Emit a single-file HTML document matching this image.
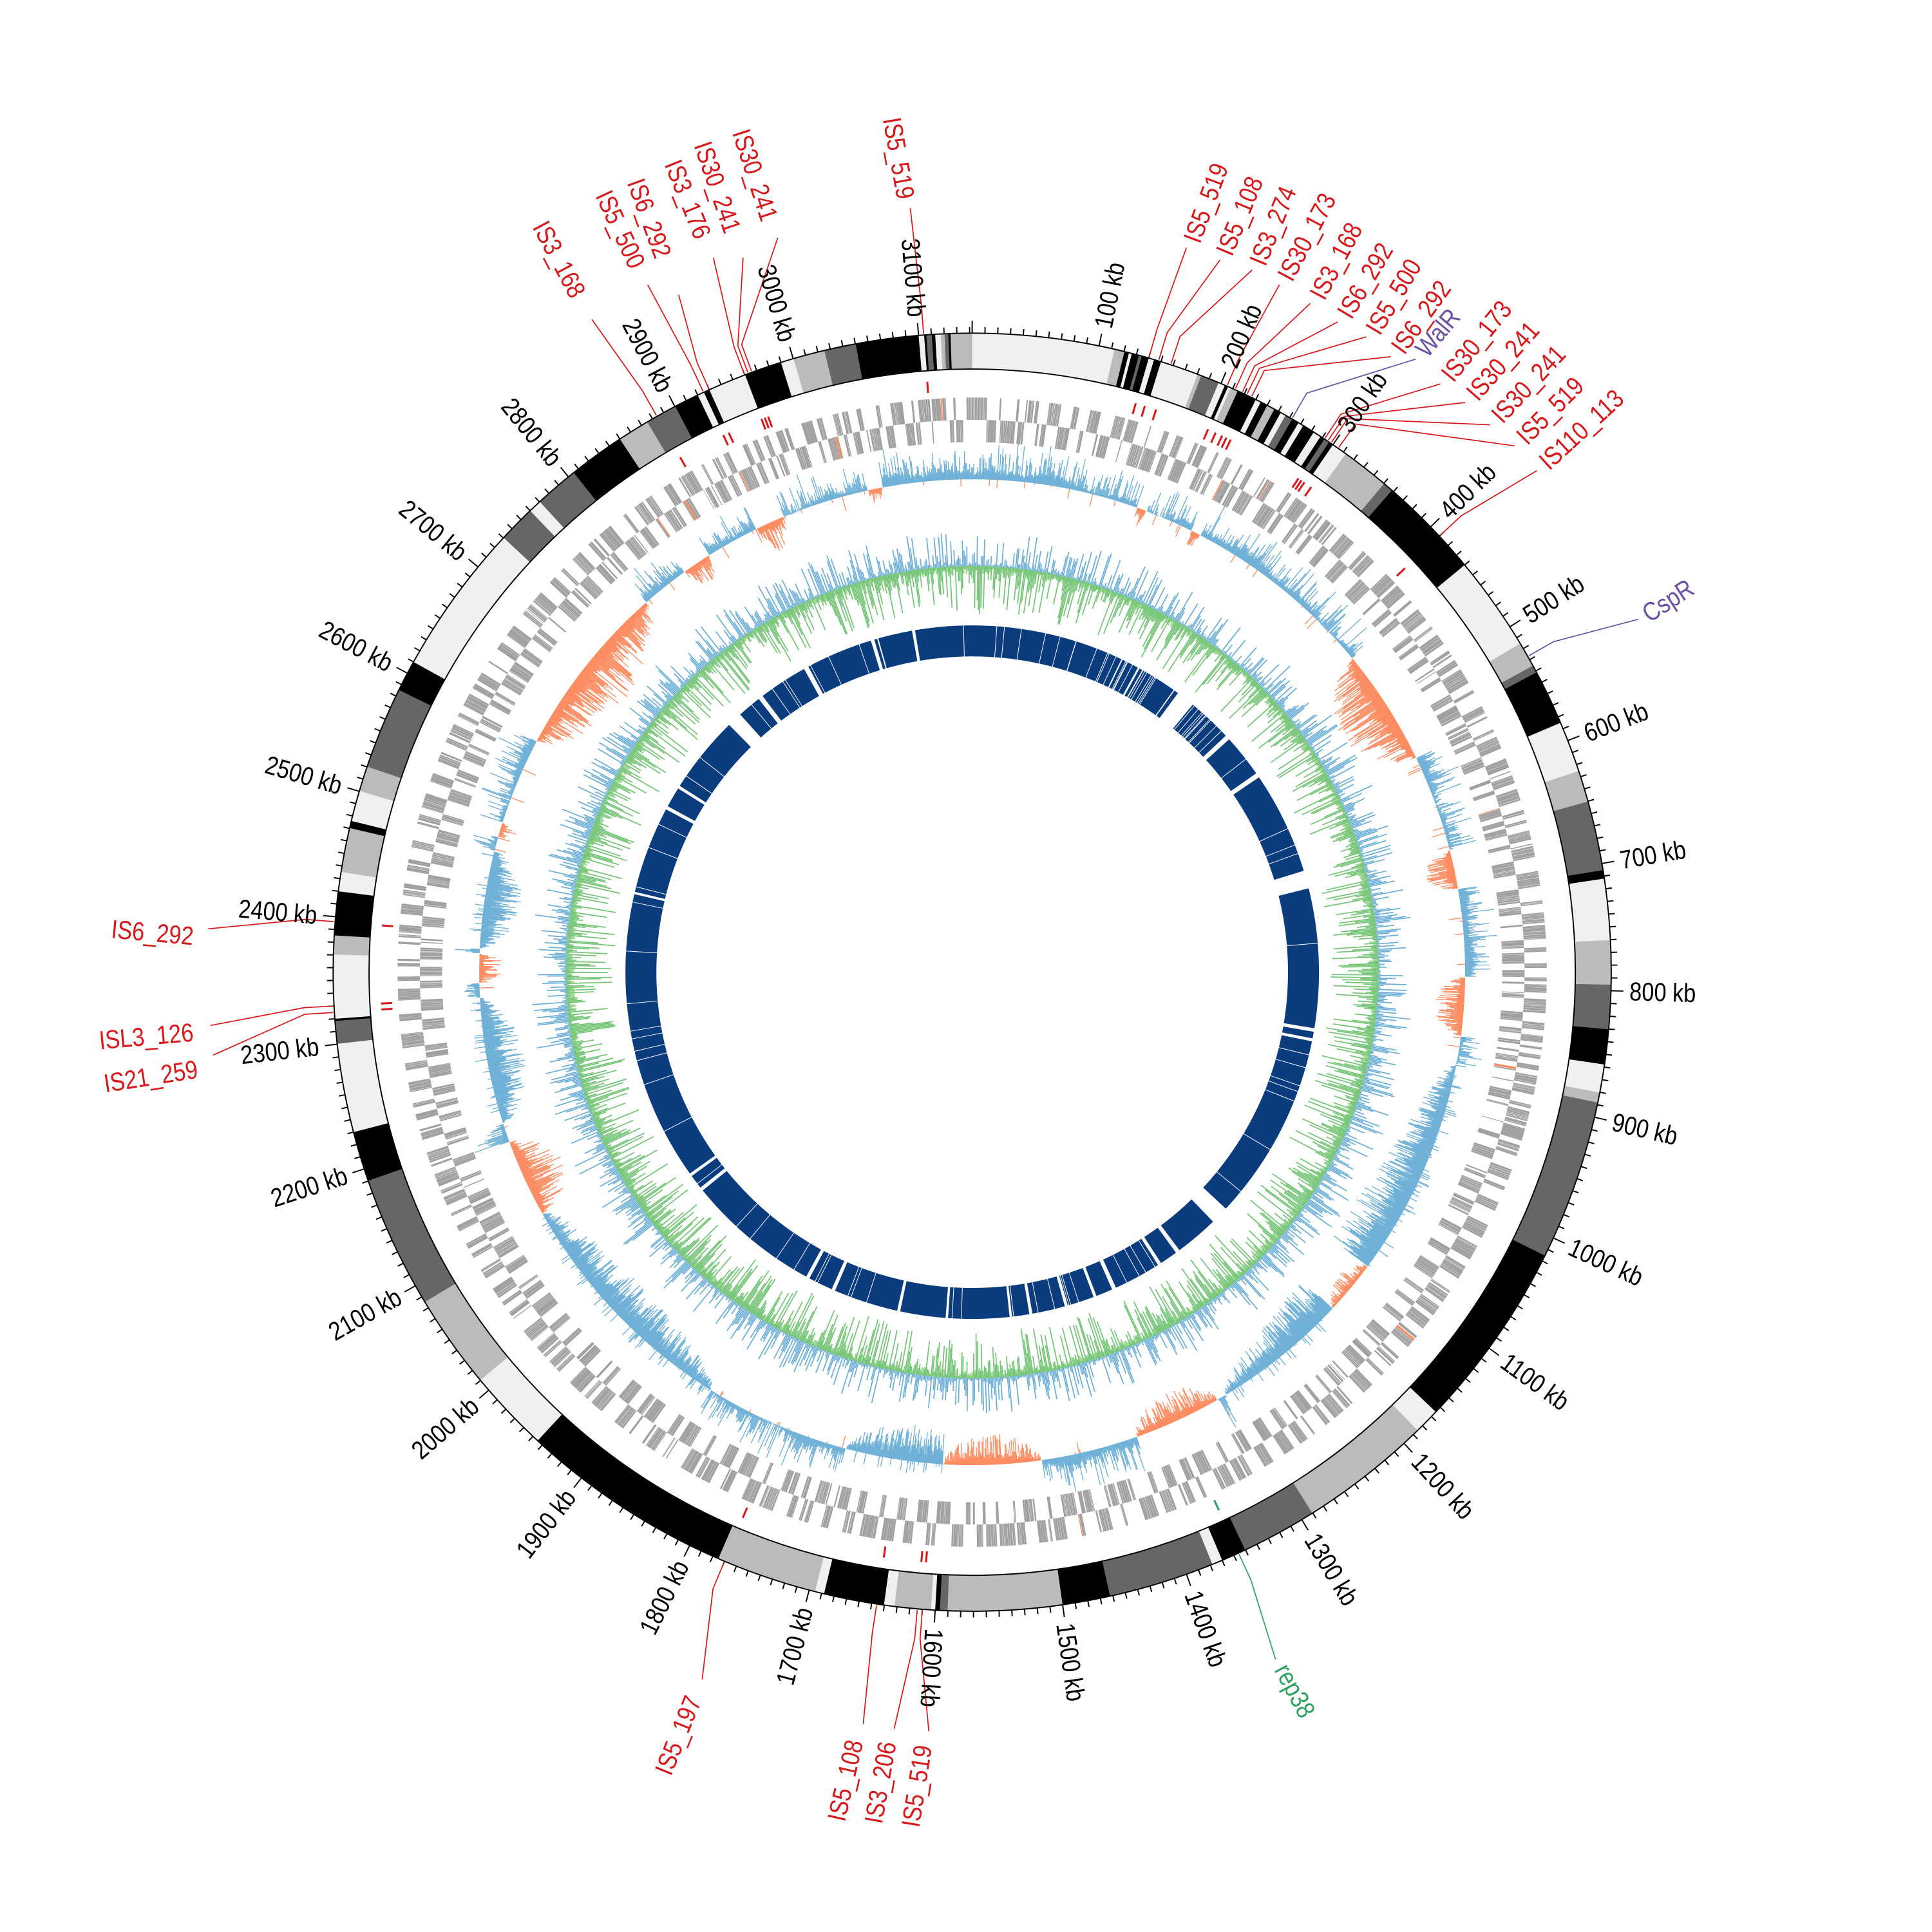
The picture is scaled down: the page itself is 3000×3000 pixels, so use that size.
<!DOCTYPE html>
<html><head><meta charset="utf-8">
<style>
html,body{margin:0;padding:0;background:#fff;}
svg{display:block;}
.kb{font-family:"Liberation Sans Narrow","Liberation Sans",sans-serif;font-size:21px;fill:#000;dominant-baseline:central;}
.is{font-family:"Liberation Sans Narrow","Liberation Sans",sans-serif;font-size:21px;fill:#d7191c;dominant-baseline:central;}
.pu{fill:#6a51a3;}
.gr{fill:#2ca25f;}
</style></head>
<body>
<svg id="s" xmlns="http://www.w3.org/2000/svg" width="3000" height="3000" viewBox="0 0 1560 1560">
<rect width="1560" height="1560" fill="#fff"/>
<g id="tracks"></g>
<g id="kbl">
<text class="kb" text-anchor="start" transform="rotate(11.46 785 785) translate(785 254) rotate(-90) scale(0.85 1)">100 kb</text>
<text class="kb" text-anchor="start" transform="rotate(22.92 785 785) translate(785 254) rotate(-90) scale(0.85 1)">200 kb</text>
<text class="kb" text-anchor="start" transform="rotate(34.37 785 785) translate(785 254) rotate(-90) scale(0.85 1)">300 kb</text>
<text class="kb" text-anchor="start" transform="rotate(45.83 785 785) translate(785 254) rotate(-90) scale(0.85 1)">400 kb</text>
<text class="kb" text-anchor="start" transform="rotate(57.29 785 785) translate(785 254) rotate(-90) scale(0.85 1)">500 kb</text>
<text class="kb" text-anchor="start" transform="rotate(68.75 785 785) translate(785 254) rotate(-90) scale(0.85 1)">600 kb</text>
<text class="kb" text-anchor="start" transform="rotate(80.20 785 785) translate(785 254) rotate(-90) scale(0.85 1)">700 kb</text>
<text class="kb" text-anchor="start" transform="rotate(91.66 785 785) translate(785 254) rotate(-90) scale(0.85 1)">800 kb</text>
<text class="kb" text-anchor="start" transform="rotate(103.12 785 785) translate(785 254) rotate(-90) scale(0.85 1)">900 kb</text>
<text class="kb" text-anchor="start" transform="rotate(114.58 785 785) translate(785 254) rotate(-90) scale(0.85 1)">1000 kb</text>
<text class="kb" text-anchor="start" transform="rotate(126.03 785 785) translate(785 254) rotate(-90) scale(0.85 1)">1100 kb</text>
<text class="kb" text-anchor="start" transform="rotate(137.49 785 785) translate(785 254) rotate(-90) scale(0.85 1)">1200 kb</text>
<text class="kb" text-anchor="start" transform="rotate(148.95 785 785) translate(785 254) rotate(-90) scale(0.85 1)">1300 kb</text>
<text class="kb" text-anchor="start" transform="rotate(160.41 785 785) translate(785 254) rotate(-90) scale(0.85 1)">1400 kb</text>
<text class="kb" text-anchor="start" transform="rotate(171.87 785 785) translate(785 254) rotate(-90) scale(0.85 1)">1500 kb</text>
<text class="kb" text-anchor="start" transform="rotate(183.32 785 785) translate(785 254) rotate(-90) scale(0.85 1)">1600 kb</text>
<text class="kb" text-anchor="end" transform="rotate(194.78 785 785) translate(785 254) rotate(90) scale(0.85 1)">1700 kb</text>
<text class="kb" text-anchor="end" transform="rotate(206.24 785 785) translate(785 254) rotate(90) scale(0.85 1)">1800 kb</text>
<text class="kb" text-anchor="end" transform="rotate(217.70 785 785) translate(785 254) rotate(90) scale(0.85 1)">1900 kb</text>
<text class="kb" text-anchor="end" transform="rotate(229.15 785 785) translate(785 254) rotate(90) scale(0.85 1)">2000 kb</text>
<text class="kb" text-anchor="end" transform="rotate(240.61 785 785) translate(785 254) rotate(90) scale(0.85 1)">2100 kb</text>
<text class="kb" text-anchor="end" transform="rotate(252.07 785 785) translate(785 254) rotate(90) scale(0.85 1)">2200 kb</text>
<text class="kb" text-anchor="end" transform="rotate(263.53 785 785) translate(785 254) rotate(90) scale(0.85 1)">2300 kb</text>
<text class="kb" text-anchor="end" transform="rotate(274.98 785 785) translate(785 254) rotate(90) scale(0.85 1)">2400 kb</text>
<text class="kb" text-anchor="end" transform="rotate(286.44 785 785) translate(785 254) rotate(90) scale(0.85 1)">2500 kb</text>
<text class="kb" text-anchor="end" transform="rotate(297.90 785 785) translate(785 254) rotate(90) scale(0.85 1)">2600 kb</text>
<text class="kb" text-anchor="end" transform="rotate(309.36 785 785) translate(785 254) rotate(90) scale(0.85 1)">2700 kb</text>
<text class="kb" text-anchor="end" transform="rotate(320.81 785 785) translate(785 254) rotate(90) scale(0.85 1)">2800 kb</text>
<text class="kb" text-anchor="end" transform="rotate(332.27 785 785) translate(785 254) rotate(90) scale(0.85 1)">2900 kb</text>
<text class="kb" text-anchor="end" transform="rotate(343.73 785 785) translate(785 254) rotate(90) scale(0.85 1)">3000 kb</text>
<text class="kb" text-anchor="end" transform="rotate(355.19 785 785) translate(785 254) rotate(90) scale(0.85 1)">3100 kb</text>
</g>
<g id="isl">
<text class="is" transform="translate(436 180) rotate(62) scale(0.85 1)">IS3_168</text>
<text class="is" transform="translate(487 155) rotate(65) scale(0.85 1)">IS5_500</text>
<text class="is" transform="translate(513 145) rotate(70) scale(0.85 1)">IS6_292</text>
<text class="is" transform="translate(543 130) rotate(68) scale(0.85 1)">IS3_176</text>
<text class="is" transform="translate(567 115) rotate(71) scale(0.85 1)">IS30_241</text>
<text class="is" transform="translate(598 105) rotate(72) scale(0.85 1)">IS30_241</text>
<text class="is" transform="translate(720 95) rotate(80) scale(0.85 1)">IS5_519</text>
<text class="is" transform="translate(962 195) rotate(-69.5) scale(0.85 1)">IS5_519</text>
<text class="is" transform="translate(988 205) rotate(-67.4) scale(0.85 1)">IS5_108</text>
<text class="is" transform="translate(1015 213) rotate(-67.6) scale(0.85 1)">IS3_274</text>
<text class="is" transform="translate(1037 225) rotate(-62) scale(0.85 1)">IS30_173</text>
<text class="is" transform="translate(1063 240) rotate(-62) scale(0.85 1)">IS3_168</text>
<text class="is" transform="translate(1085 255) rotate(-59) scale(0.85 1)">IS6_292</text>
<text class="is" transform="translate(1108 268) rotate(-59) scale(0.85 1)">IS5_500</text>
<text class="is" transform="translate(1128 283) rotate(-54.5) scale(0.85 1)">IS6_292</text>
<text class="is pu" transform="translate(1147 285) rotate(-50) scale(0.85 1)">WalR</text>
<text class="is" transform="translate(1168 305) rotate(-51) scale(0.85 1)">IS30_173</text>
<text class="is" transform="translate(1188 320) rotate(-48.5) scale(0.85 1)">IS30_241</text>
<text class="is" transform="translate(1208 338) rotate(-47) scale(0.85 1)">IS30_241</text>
<text class="is" transform="translate(1228 355) rotate(-45) scale(0.85 1)">IS5_519</text>
<text class="is" transform="translate(1246 375) rotate(-42.6) scale(0.85 1)">IS110_113</text>
<text class="is pu" transform="translate(1328 497) rotate(-33) scale(0.85 1)">CspR</text>
<text class="is" transform="translate(90 750) rotate(5) scale(0.85 1)">IS6_292</text>
<text class="is" transform="translate(80 840) rotate(-5) scale(0.85 1)">ISL3_126</text>
<text class="is" transform="translate(84 875) rotate(-9) scale(0.85 1)">IS21_259</text>
<text class="is" transform="translate(535 1432) rotate(-68) scale(0.85 1)">IS5_197</text>
<text class="is" transform="translate(675 1470) rotate(-77) scale(0.85 1)">IS5_108</text>
<text class="is" transform="translate(705 1472) rotate(-80) scale(0.85 1)">IS3_206</text>
<text class="is" transform="translate(735 1475) rotate(-81) scale(0.85 1)">IS5_519</text>
<text class="is gr" transform="translate(1035 1345) rotate(62) scale(0.85 1)">rep38</text>
</g>
</svg>
<script>
(function(){
const G=3142,cx=785,cy=785;
const NS="http://www.w3.org/2000/svg";
const T=document.getElementById('tracks');
function P(r,kb){const a=kb/G*2*Math.PI;return [cx+r*Math.sin(a),cy-r*Math.cos(a)];}
function f(p){return p[0].toFixed(2)+' '+p[1].toFixed(2);}
function sec(r1,r2,k1,k2){const L=(k2-k1)/G>0.5?1:0;return 'M'+f(P(r2,k1))+'A'+r2+' '+r2+' 0 '+L+' 1 '+f(P(r2,k2))+'L'+f(P(r1,k2))+'A'+r1+' '+r1+' 0 '+L+' 0 '+f(P(r1,k1))+'Z';}
function ln(r1,r2,kb){return 'M'+f(P(r1,kb))+'L'+f(P(r2,kb));}
function add(tag,attrs){const e=document.createElementNS(NS,tag);for(const k in attrs)e.setAttribute(k,attrs[k]);T.appendChild(e);return e;}
let seed=12345;function rng(){seed|=0;seed=seed+0x6D2B79F5|0;let t=Math.imul(seed^seed>>>15,1|seed);t=t+Math.imul(t^t>>>7,61|t)^t;return((t^t>>>14)>>>0)/4294967296;}

const C={k:'#000',d:'#666',g:'#bbb',l:'#f0f0f0'};
const segs=[[0,112,'l'],[112,120,'g'],[120,124,'k'],[124,126,'l'],[126,132,'k'],[132,134,'d'],[134,140,'k'],[140,144,'l'],[144,150,'k'],[150,180,'l'],[180,183,'g'],[183,198,'d'],[198,203,'l'],[203,206,'k'],[206,208,'l'],[208,214,'g'],[214,230,'k'],[230,234,'l'],[234,240,'k'],[240,246,'g'],[246,252,'k'],[252,256,'l'],[256,262,'d'],[262,268,'k'],[268,272,'l'],[272,282,'k'],[282,288,'l'],[288,292,'k'],[292,296,'d'],[296,300,'k'],[300,312,'l'],[312,350,'g'],[350,358,'d'],[358,440,'k'],[440,515,'l'],[515,535,'g'],[535,541,'d'],[541,585,'k'],[585,625,'l'],[625,650,'g'],[650,705,'d'],[705,712,'k'],[712,760,'l'],[760,795,'g'],[795,830,'d'],[830,858,'k'],[858,880,'l'],[880,888,'g'],[888,1015,'d'],[1015,1165,'k'],[1165,1185,'l'],[1185,1290,'g'],[1290,1350,'d'],[1350,1370,'k'],[1370,1378,'l'],[1378,1462,'d'],[1462,1500,'k'],[1500,1590,'g'],[1590,1596,'d'],[1596,1600,'k'],[1600,1603,'l'],[1603,1632,'g'],[1632,1640,'l'],[1640,1688,'k'],[1688,1695,'l'],[1695,1775,'g'],[1775,1945,'k'],[1945,2010,'l'],[2010,2085,'g'],[2085,2190,'d'],[2190,2230,'k'],[2230,2300,'l'],[2300,2318,'d'],[2318,2320,'k'],[2320,2370,'l'],[2370,2385,'g'],[2385,2420,'k'],[2420,2435,'l'],[2435,2470,'g'],[2470,2476,'k'],[2476,2500,'l'],[2500,2520,'g'],[2520,2585,'d'],[2585,2610,'k'],[2610,2730,'l'],[2730,2760,'d'],[2760,2770,'l'],[2770,2805,'d'],[2805,2850,'k'],[2850,2875,'g'],[2875,2900,'d'],[2900,2920,'k'],[2920,2925,'l'],[2925,2930,'k'],[2930,2960,'l'],[2960,2990,'k'],[2990,3000,'l'],[3000,3025,'g'],[3025,3050,'d'],[3050,3100,'k'],[3100,3104,'l'],[3104,3106,'k'],[3106,3110,'d'],[3110,3113,'k'],[3113,3117,'l'],[3117,3120,'g'],[3120,3123,'d'],[3123,3125,'k'],[3125,3142,'g']];
const kp={k:'',d:'',g:'',l:''};
segs.forEach(s=>{kp[s[2]]+=sec(487,516,s[0],s[1]+0.3);});
for(const c in kp)add('path',{d:kp[c],fill:C[c]});
add('circle',{cx:cx,cy:cy,r:516,fill:'none',stroke:'#000','stroke-width':1});
add('circle',{cx:cx,cy:cy,r:487,fill:'none',stroke:'#000','stroke-width':1});
let tk='';for(let k=0;k<G;k+=10){tk+=ln(516,k%100===0?526:521,k);}
add('path',{d:tk,stroke:'#000','stroke-width':1,fill:'none'});

let gA='',gO='';
let kb=0,row=0;
while(kb<G){
  const run=1+rng()*12;const end=kb+run;row=1-row;
  const r1=row?446:428,r2=row?464:446;
  while(kb<end){
    const len=0.5+rng()*1.5;
    if(rng()<0.93){ if(rng()<0.008) gO+=sec(r1,r2,kb,kb+len); else gA+=sec(r1,r2,kb,kb+len);}
    kb+=len+rng()*0.3;
  }
  if(rng()<0.12)kb+=rng()*3;
}
add('path',{d:gA,fill:'#a0a0a0'});
add('path',{d:gO,fill:'#fc8d62'});

const oz=[[440,560,45],[1105,1160,15],[1310,1400,25],[1500,1600,25],[2100,2180,35],[2345,2375,22],[2495,2510,15],[2600,2780,42],[2830,2860,20],[2915,2945,25],[3035,3050,15],[660,700,25],[790,850,25],[170,180,15],[230,240,15]];
const bz=[[880,1300,38],[1560,1700,30],[1850,2100,30],[2200,2330,30],[2380,2480,30]];
function zone(L,i){for(const z of L){if(i>=z[0]&&i<=z[1])return [Math.sqrt(Math.sin(Math.PI*(i-z[0])/(z[1]-z[0]))),z[2]];}return null;}
const B=398;let bf='',bl='',of='',ol='';
for(let i=0;i<G;i++){
  const x=i+0.5;const o=zone(oz,i);
  if(o){const d=o[1]*o[0];of+=ln(B,B-d*(0.15+0.15*rng()),x);ol+=ln(B,B-d*Math.pow(rng(),0.8),x);continue;}
  const b=zone(bz,i);
  if(b){const d=b[1]*b[0];bf+=ln(B,B-d*(0.3+0.2*rng()),x);bl+=ln(B,B-d*(0.2+0.8*rng()),x);if(rng()<0.2)bl+=ln(B,B+rng()*10,x);continue;}
  const s=6+4*Math.sin(i/37)+3*Math.sin(i/11);
  bf+=ln(B,B+s*(0.5+0.3*rng()),x);bl+=ln(B,B+s*0.4+rng()*rng()*30,x);
  if(rng()<0.04)ol+=ln(B,B-rng()*12,x);
}
add('path',{d:bf,stroke:'#9ecae1','stroke-width':1.1,fill:'none'});
add('path',{d:of,stroke:'#fc8d62','stroke-width':1.1,fill:'none'});
add('path',{d:bl,stroke:'#6baed6','stroke-width':0.7,fill:'none'});
add('path',{d:ol,stroke:'#fc8d62','stroke-width':0.7,fill:'none'});

const Bg=328;let gl='',bl2='',gf='';
for(let i=0;i<G;i+=1.7){
  gl+=ln(Bg,Bg-(1+Math.pow(rng(),2.2)*38),i);
  bl2+=ln(Bg,Bg+(1+Math.pow(rng(),2.5)*28),i+0.85);
  gf+=ln(Bg,Bg-(2+rng()*5),i);
}
add('path',{d:gf,stroke:'#a1d99b','stroke-width':1.2,fill:'none'});
add('path',{d:gl,stroke:'#74c476','stroke-width':0.9,fill:'none'});
add('path',{d:bl2,stroke:'#6baed6','stroke-width':0.9,fill:'none'});

add('path',{d:sec(255,280,0,G/2)+sec(255,280,G/2,G),fill:'#0b3d7e'});
const gaps=[[36.4,39.5],[47,47.8],[55,55.8],[73,76],[99.3,99.9],[101,101.5],[133,136],[143.3,144],[147,147.6],[155.5,156.2],[159,159.5],[164,164.5],[170,170.5],[173.4,173.8],[184,184.4],[192,192.5],[203.3,203.9],[208,208.6],[231,231.6],[234,234.5],[283,283.4],[298,298.6],[302,302.5],[315.5,318],[322,322.8],[331,331.8],[343,343.6],[350,350.5]];
let gp='';gaps.forEach(g=>{gp+=sec(254,281,g[0]/360*G,g[1]/360*G);});
let thin='';
for(let i=0;i<70;i++){const a=rng()*G;thin+=ln(254,281,a);}
for(let i=0;i<40;i++){const a=(18+rng()*28)/360*G;thin+=ln(254,281,a);}
add('path',{d:gp,fill:'#fff'});
add('path',{d:thin,stroke:'#fff','stroke-width':0.5,fill:'none'});

const L=[[478,258,2884,'r'],[523,230,2925,'r'],[548,238,2930,'r'],[576,208,2960,'r'],[600,208,2963,'r'],[628,192,2966,'r'],[735,168,3104,'r'],
[958,200,140,'r'],[985,210,148,'r'],[1011,218,158,'r'],[1033,230,205,'r'],[1058,245,212,'r'],[1080,260,218,'r'],[1103,272,222,'r'],[1123,288,226,'r'],[1143,290,262,'p'],[1163,310,292,'r'],[1183,325,295,'r'],[1203,343,298,'r'],[1223,360,305,'r'],[1241,380,410,'r'],[1323,500,527,'p'],
[168,750,2396,'r'],[170,828,2330,'r'],[172,852,2325,'r'],
[567,1356,1770,'r'],[697,1392,1646,'r'],[722,1396,1614,'r'],[750,1398,1610,'r'],[1030,1340,1356,'g']];
const col={r:'#d7191c',p:'#6a51a3',g:'#2ca25f'};
L.forEach(l=>{
  const a=P(540,l[2]),b=P(517,l[2]);
  add('path',{d:'M'+l[0]+' '+l[1]+'L'+f(a)+'L'+f(b),stroke:col[l[3]],'stroke-width':0.9,fill:'none'});
  if(l[3]!=='p')add('path',{d:ln(469,478,l[2]),stroke:col[l[3]],'stroke-width':1.6,fill:'none'});
});
})();
</script>
</body></html>
